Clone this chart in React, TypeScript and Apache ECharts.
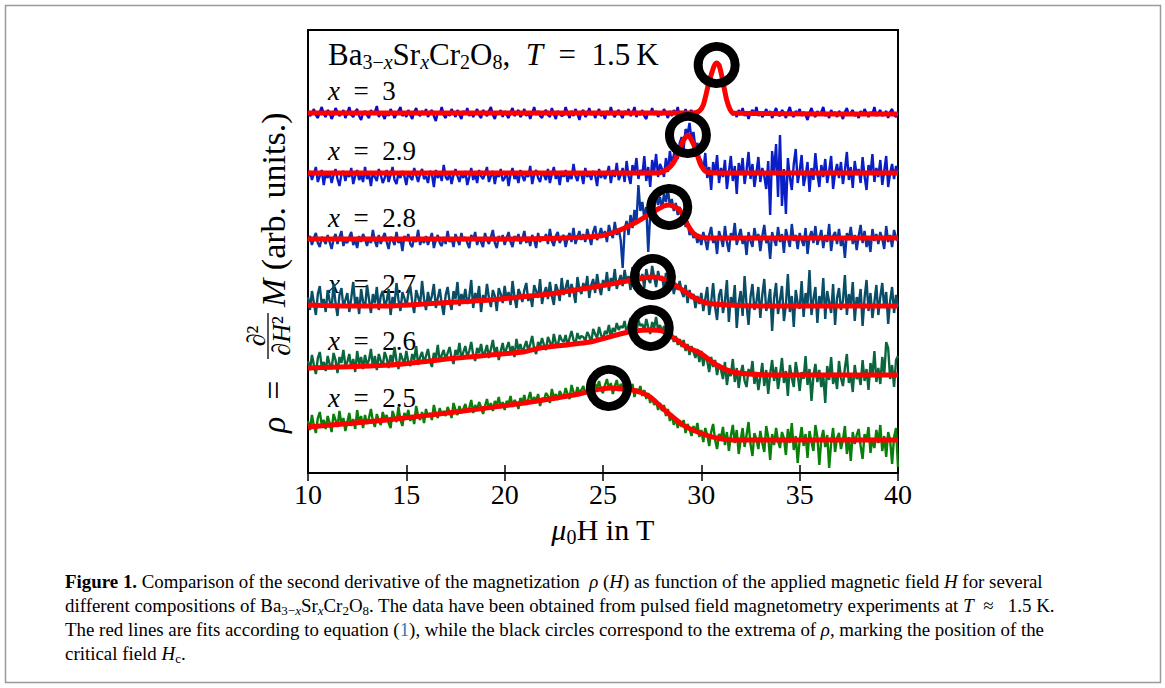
import React, { useEffect, useRef } from "react";
import * as echarts from "echarts";

// ---------- data ----------
const H_START = 10; // T
const H_STEP = 0.1; // T, measurement grid step
const xTickValues = [10, 15, 20, 25, 30, 35, 40];
const compositions = ["3", "2.9", "2.8", "2.7", "2.6", "2.5"];
const traceColors = ["#0808d0", "#0a1ec8", "#0a36a0", "#0a4d66", "#0a663c", "#0a800a"];

// measured rho (arb. units, offset per composition) on the H grid 10..40 T
const rhoX300 = [
  362, 357, 360, 364, 358, 355, 361, 366, 359, 356,
  363, 360, 354, 358, 365, 361, 357, 359, 363, 355,
  360, 366, 358, 356, 361, 364, 357, 353, 360, 362,
  358, 355, 363, 359, 361, 367, 356, 360, 358, 354,
  361, 357, 364, 360, 355, 359, 362, 366, 357, 360,
  356, 363, 358, 354, 361, 365, 359, 357, 362, 358,
  364, 356, 360, 363, 357, 352, 361, 359, 366, 358,
  355, 361, 357, 364, 360, 356, 363, 358, 354, 362,
  359, 365, 357, 361, 356, 360, 364, 358, 355, 363,
  360, 357, 362, 366, 358, 354, 361, 359, 363, 356,
  362, 358, 355, 361, 365, 357, 360, 363, 356, 359,
  364, 357, 361, 354, 360, 366, 358, 362, 357, 355,
  361, 363, 358, 356, 365, 359, 354, 362, 360, 357,
  358, 366, 360, 355, 362, 357, 364, 359, 353, 361,
  363, 356, 359, 365, 358, 361, 355, 360, 364, 357,
  360, 354, 362, 358, 366, 359, 356, 361, 363, 358,
  355, 362, 359, 364, 357, 360, 366, 356, 361, 358,
  363, 357, 354, 361, 359, 365, 358, 362, 356, 360,
  358, 364, 360, 355, 362, 357, 363, 359, 366, 356,
  361, 358, 364, 357, 360, 363, 355, 361, 358, 362,
  364, 368, 375, 383, 392, 399, 405, 409, 411, 408,
  401, 391, 380, 372, 366, 362, 358, 361, 356, 363,
  359, 365, 357, 361, 354, 360, 363, 358, 366, 357,
  361, 356, 359, 364, 358, 362, 355, 360, 365, 358,
  357, 363, 360, 355, 361, 366, 358, 356, 362, 359,
  364, 357, 361, 358, 353, 360, 365, 359, 356, 362,
  358, 361, 366, 357, 360, 355, 363, 359, 361, 356,
  362, 359, 354, 361, 365, 358, 360, 363, 357, 359,
  355, 362, 358, 364, 360, 356, 361, 359, 366, 357,
  360, 363, 357, 359, 362, 355, 361, 364, 358, 356,
  360,
];
const rhoX290 = [
  296, 302, 293, 299, 306, 291, 297, 303, 288, 300,
  295, 301, 290, 298, 304, 294, 287, 299, 302, 292,
  300, 296, 305, 289, 297, 303, 293, 298, 291, 306,
  294, 299, 287, 301, 296, 292, 304, 298, 290, 295,
  303, 291, 298, 306, 293, 289, 300, 295, 302, 297,
  288, 301, 296, 293, 305, 298, 291, 299, 304, 294,
  297, 290, 302, 299, 286, 303, 295, 300, 292, 308,
  296, 293, 301, 289, 298, 304, 297, 291, 300, 295,
  302, 288, 296, 305, 293, 299, 290, 303, 297, 294,
  299, 306, 291, 297, 302, 289, 300, 296, 304, 292,
  295, 301, 287, 299, 305, 294, 298, 290, 303, 297,
  292, 300, 296, 307, 289, 298, 303, 295, 291, 301,
  298, 293, 304, 290, 299, 306, 294, 300, 288, 302,
  296, 303, 291, 298, 294, 309, 297, 292, 301, 299,
  289, 305, 296, 300, 293, 302, 298, 287, 304, 295,
  301, 294, 299, 307, 290, 303, 296, 310, 293, 298,
  305, 291, 312, 297, 289, 308, 300, 315, 294, 303,
  298, 317, 292, 306, 286, 313, 301, 319, 296, 309,
  304, 296, 315, 301, 322, 309, 318, 327, 314, 330,
  336, 324, 344, 339, 350, 333, 341, 325, 330, 316,
  312, 302, 320, 295, 306, 283, 311, 299, 318, 290,
  305, 296, 313, 284, 301, 317, 292, 307, 279, 310,
  298, 315, 289, 303, 321, 294, 309, 286, 300, 316,
  291, 305, 297, 284, 312, 258, 322, 301, 329, 276,
  338, 267, 304, 259, 315, 296, 283, 309, 324, 290,
  302, 318, 287, 297, 311, 281, 305, 293, 320, 299,
  286, 308, 296, 314, 290, 302, 317, 284, 300, 309,
  295, 311, 289, 303, 321, 293, 306, 285, 312, 298,
  304, 290, 316, 297, 283, 308, 299, 319, 291, 305,
  296, 313, 288, 302, 317, 286, 300, 309, 294, 307,
  301,
];
const rhoX280 = [
  232, 237, 228, 235, 240, 230, 226, 236, 233, 229,
  238, 231, 224, 234, 239, 229, 236, 242, 227, 233,
  230, 236, 241, 228, 233, 225, 237, 231, 239, 234,
  227, 235, 230, 243, 232, 226, 238, 229, 235, 240,
  231, 224, 236, 233, 228, 241, 230, 235, 222, 237,
  233, 239, 229, 226, 236, 231, 243, 228, 234, 230,
  237, 228, 234, 240, 225, 233, 238, 230, 227, 236,
  229, 242, 231, 235, 226, 239, 233, 228, 240, 232,
  236, 230, 225, 238, 233, 241, 228, 235, 231, 226,
  240, 233, 229, 236, 243, 230, 225, 237, 232, 238,
  228, 235, 241, 231, 226, 237, 233, 239, 229, 234,
  242, 230, 236, 227, 238, 233, 225, 240, 231, 236,
  233, 239, 229, 244, 232, 227, 237, 241, 230, 235,
  238, 226, 235, 240, 231, 245, 229, 236, 242, 233,
  239, 231, 244, 236, 228, 241, 247, 233, 238, 245,
  236, 242, 231, 248, 240, 235, 251, 238, 244, 233,
  205, 244, 252, 238, 258, 245, 263, 250, 288, 262,
  271, 255, 266, 221, 259, 274, 262, 280, 268, 276,
  264, 279, 271, 285, 266, 274, 262, 270, 258, 266,
  255, 261, 246, 252, 238, 243, 235, 240, 230, 237,
  228, 241, 233, 223, 238, 246, 230, 236, 219, 242,
  235, 226, 247, 231, 221, 240, 234, 250, 228, 237,
  244, 229, 236, 218, 241, 232, 226, 245, 233, 239,
  222, 237, 248, 230, 235, 214, 241, 233, 227, 246,
  231, 239, 220, 244, 235, 226, 249, 232, 238, 224,
  240, 233, 227, 245, 219, 236, 242, 230, 247, 228,
  235, 243, 225, 238, 231, 249, 222, 237, 241, 229,
  244, 227, 236, 215, 240, 233, 246, 229, 238, 223,
  237, 248, 230, 242, 226, 235, 221, 244, 232, 239,
  229, 241, 234, 224, 247, 231, 238, 226, 243, 235,
  232,
];
const rhoX270 = [
  176, 163, 182, 170, 158, 179, 187, 168, 174, 161,
  183, 172, 165, 189, 170, 157, 178, 185, 166, 173,
  180, 161, 175, 191, 168, 176, 159, 184, 171, 165,
  188, 174, 160, 179, 170, 186, 163, 177, 182, 167,
  172, 184, 158, 176, 169, 190, 173, 162, 181, 175,
  166, 179, 187, 171, 160, 183, 176, 168, 192, 174,
  163, 181, 170, 177, 189, 165, 175, 184, 169, 158,
  178, 186, 171, 163, 182, 174, 191, 167, 179, 172,
  184, 169, 176, 193, 165, 180, 173, 187, 161, 178,
  171, 189, 175, 166, 183, 177, 162, 185, 179, 170,
  187, 173, 181, 168, 192, 176, 165, 184, 179, 171,
  183, 190, 172, 179, 166, 188, 182, 175, 194, 169,
  180, 186, 174, 191, 177, 168, 189, 183, 172, 195,
  178, 185, 193, 176, 189, 181, 170, 196, 184, 179,
  190, 182, 197, 175, 188, 194, 180, 199, 186, 178,
  193, 186, 201, 182, 195, 189, 204, 184, 192, 198,
  187, 203, 191, 197, 183, 206, 194, 188, 200, 192,
  199, 185, 204, 194, 190, 207, 196, 186, 202, 193,
  197, 184, 200, 191, 186, 194, 179, 189, 183, 192,
  181, 176, 188, 170, 183, 174, 179, 165, 177, 169,
  180, 162, 174, 186, 158, 171, 190, 166, 153, 178,
  184, 160, 172, 193, 151, 176, 167, 188, 145, 170,
  182, 157, 197, 168, 148, 176, 189, 163, 171, 186,
  155, 178, 194, 162, 170, 184, 142, 175, 190, 159,
  173, 187, 152, 168, 199, 161, 177, 146, 183, 170,
  164, 192, 156, 180, 169, 203, 158, 174, 186, 150,
  177, 166, 195, 154, 182, 171, 160, 189, 148, 175,
  185, 163, 172, 198, 158, 179, 168, 191, 152, 176,
  169, 184, 147, 175, 193, 162, 180, 155, 171, 188,
  158, 176, 190, 165, 181, 149, 172, 186, 160, 178,
  166,
];
const rhoX260 = [
  112, 103, 118, 108, 99, 115, 121, 106, 111, 102,
  117, 109, 104, 120, 113, 100, 116, 110, 123, 107,
  111, 119, 105, 114, 101, 122, 109, 116, 104, 118,
  108, 113, 124, 106, 117, 103, 119, 112, 107, 121,
  115, 105, 118, 110, 126, 112, 104, 120, 114, 109,
  122, 111, 107, 119, 113, 127, 108, 116, 121, 110,
  117, 124, 112, 106, 120, 115, 128, 111, 118, 123,
  113, 120, 126, 115, 109, 123, 118, 130, 114, 121,
  127, 116, 122, 131, 118, 112, 125, 120, 129, 117,
  121, 128, 115, 124, 133, 119, 126, 113, 122, 130,
  118, 125, 131, 121, 127, 116, 134, 123, 129, 120,
  126, 132, 122, 129, 137, 124, 119, 131, 127, 135,
  128, 123, 136, 131, 125, 139, 130, 127, 138, 133,
  131, 138, 127, 135, 142, 133, 129, 140, 134, 137,
  136, 132, 141, 137, 130, 144, 139, 135, 146, 138,
  134, 142, 139, 148, 136, 145, 141, 150, 143, 147,
  145, 152, 140, 148, 155, 144, 150, 141, 153, 147,
  149, 142, 154, 146, 139, 151, 145, 156, 143, 148,
  141, 147, 138, 144, 135, 140, 131, 137, 128, 134,
  126, 133, 122, 129, 118, 127, 121, 115, 124, 111,
  122, 107, 118, 112, 101, 116, 106, 113, 98, 109,
  103, 94, 111, 88, 102, 97, 114, 91, 105, 85,
  100, 108, 92, 86, 104, 97, 112, 89, 101, 83,
  96, 110, 87, 103, 79, 99, 113, 92, 106, 84,
  98, 115, 90, 102, 77, 108, 95, 86, 111, 99,
  82, 101, 94, 117, 88, 104, 72, 97, 109, 91,
  103, 86, 98, 70, 107, 93, 116, 89, 100, 84,
  112, 95, 87, 105, 119, 90, 98, 81, 108, 94,
  99, 88, 113, 92, 104, 83, 110, 97, 122, 91,
  105, 89, 116, 98, 131, 125, 94, 108, 86, 113,
  117,
];
const rhoX250 = [
  52, 43, 58, 47, 40, 55, 61, 48, 53, 44,
  57, 50, 41, 59, 53, 46, 62, 49, 55, 42,
  51, 60, 47, 54, 44, 63, 50, 57, 45, 58,
  49, 55, 64, 52, 46, 59, 53, 48, 61, 54,
  58, 50, 45, 62, 56, 51, 66, 53, 47, 60,
  55, 63, 52, 58, 49, 67, 57, 53, 61, 50,
  64, 56, 60, 53, 68, 59, 55, 65, 58, 62,
  57, 66, 61, 55, 70, 63, 58, 67, 60, 64,
  69, 61, 65, 73, 60, 68, 63, 71, 66, 59,
  67, 74, 64, 70, 62, 72, 68, 76, 65, 71,
  63, 72, 69, 77, 66, 73, 70, 64, 75, 71,
  78, 68, 74, 81, 70, 76, 72, 79, 67, 75,
  73, 80, 77, 70, 84, 75, 79, 73, 82, 78,
  76, 85, 79, 74, 88, 81, 77, 86, 80, 83,
  87, 79, 84, 90, 82, 77, 89, 85, 92, 83,
  80, 88, 94, 84, 90, 79, 87, 93, 82, 89,
  86, 80, 91, 78, 85, 89, 76, 84, 81, 87,
  77, 83, 74, 80, 70, 76, 68, 73, 63, 70,
  62, 68, 57, 64, 52, 59, 48, 55, 45, 52,
  46, 53, 40, 49, 44, 37, 47, 41, 50, 36,
  43, 31, 45, 38, 27, 41, 49, 33, 24, 39,
  35, 46, 28, 41, 22, 37, 48, 30, 43, 19,
  33, 45, 26, 38, 51, 29, 17, 40, 34, 24,
  42, 30, 21, 47, 36, 13, 39, 28, 45, 32,
  25, 41, 35, 18, 44, 30, 50, 23, 37, 10,
  33, 46, 27, 39, 15, 42, 31, 22, 48, 36,
  8, 34, 43, 26, 38, 5, 30, 45, 21, 35,
  40, 24, 33, 47, 19, 36, 12, 41, 29, 38,
  44, 27, 14, 39, 32, 46, 20, 35, 25, 43,
  30, 48, 22, 37, 16, 41, 33, 9, 36, 45,
  6,
];

// fits according to equation (1)
const fitH300 = [10, 29.6, 29.9, 30.1, 30.27, 30.4, 30.53, 30.65, 30.78, 30.9, 31.03, 31.15, 31.29, 31.45, 31.6, 40];
const fitR300 = [360, 360, 362, 368, 381, 392, 400, 407, 410, 408, 398, 386, 373, 364, 360, 359];
const fitH290 = [10, 27.8, 28.2, 28.45, 28.66, 28.92, 29.1, 29.32, 29.5, 29.68, 29.93, 30.1, 30.27, 31, 40];
const fitR290 = [300, 300, 303, 307, 313, 325, 333, 338, 333, 325, 310, 304, 301, 300, 300];
const fitH280 = [10, 20, 23, 24.85, 25.6, 26.2, 26.8, 27.3, 27.8, 28.1, 28.37, 28.65, 28.9, 29.25, 29.58, 29.93, 30.5, 31, 40];
const fitR280 = [234, 234, 235, 237, 241, 246, 252, 258, 264, 267, 268, 266, 263, 250, 240, 236, 235, 235, 235];
const fitH270 = [10, 12, 14.17, 16.7, 19.25, 21.8, 22.64, 24.85, 26.5, 27.0, 27.54, 28.24, 28.9, 29.58, 30.27, 31.3, 33, 40];
const fitR270 = [168, 167, 167, 170, 173, 178, 180, 187, 193, 195, 196, 193, 185, 176, 170, 168, 167, 167];
const fitH260 = [10, 14.17, 17.56, 20.95, 21.8, 24.34, 25.86, 26.6, 27.39, 28.0, 28.75, 29.25, 29.93, 30.78, 31.6, 32.47, 34, 40];
const fitR260 = [105, 108, 115, 121, 125, 131, 139, 142, 143, 142, 133, 126, 120, 108, 101, 99, 98, 98];
const fitH250 = [10, 14, 17.5, 21, 23.8, 24.6, 25.41, 26.0, 26.5, 27.0, 27.4, 28.24, 29.07, 29.93, 30.78, 31.6, 33, 40];
const fitR250 = [46, 53, 61, 70, 79, 83, 85, 84, 83, 80, 76, 61, 48, 40, 35, 33, 33, 33];

// extrema of rho (critical fields)
const criticalH = [30.78, 29.32, 28.37, 27.54, 27.43, 25.3];
const criticalRho = [408, 338, 266, 196, 145, 85];

const rhoTraces = [rhoX300, rhoX290, rhoX280, rhoX270, rhoX260, rhoX250];
const fitHs = [fitH300, fitH290, fitH280, fitH270, fitH260, fitH250];
const fitRs = [fitR300, fitR290, fitR280, fitR270, fitR260, fitR250];

// ---------- styling ----------
const PLOT_FONT = "'Liberation Serif', 'DejaVu Serif', serif";
const CAP_FONT = "'Liberation Serif', 'DejaVu Serif', serif";

const GRID = { left: 308, top: 30, width: 590, height: 443 };

function richSet(size: number, lh: number, subSize: number, subLH: number, subPad: number, family: string) {
  const base = { fontSize: size, lineHeight: lh, fontFamily: family, fill: "#000", color: "#000" };
  const sub = { fontSize: subSize, lineHeight: subLH, fontFamily: family, fill: "#000", color: "#000", padding: [subPad, 0, 0, 0] };
  return {
    r: { ...base },
    i: { ...base, fontStyle: "italic" },
    b: { ...base, fontWeight: "bold" },
    c: { ...base, fill: "#2b7bb9", color: "#2b7bb9" },
    s: { ...sub },
    si: { ...sub, fontStyle: "italic" },
  };
}

const titleRich = richSet(31, 38, 20, 20, 15, PLOT_FONT);
const labelRich = richSet(27, 34, 18, 18, 14, PLOT_FONT);
const axisNameRich = richSet(30, 38, 20, 20, 15, PLOT_FONT);
const yNameRich = richSet(34, 42, 22, 22, 17, PLOT_FONT);
const capRich = richSet(18.9, 26, 13, 14, 10, CAP_FONT);

const captionLines = [
  "{b|Figure 1.}{r| Comparison of the second derivative of the magnetization  }{i|ρ}{r| (}{i|H}{r|) as function of the applied magnetic field }{i|H}{r| for several}",
  "{r|different compositions of Ba}{s|3−}{si|x}{r|Sr}{si|x}{r|Cr}{s|2}{r|O}{s|8}{r|. The data have been obtained from pulsed field magnetometry experiments at }{i|T}{r|\u2002≈\u2002 1.5 K.}",
  "{r|The red lines are fits according to equation (}{c|1}{r|), while the black circles correspond to the extrema of }{i|ρ}{r|, marking the position of the}",
  "{r|critical field }{i|H}{s|c}{r|.}",
];
const captionY = [581, 605, 629, 653];
const labelY = [91, 151, 218, 284, 341, 398];

export default function App() {
  const ref = useRef<HTMLDivElement>(null);
  useEffect(() => {
    if (!ref.current) return;
    const chart = echarts.init(ref.current, null, { renderer: "svg" });

    const series: any[] = [];
    rhoTraces.forEach((tr, k) => {
      series.push({
        type: "line",
        name: "x = " + compositions[k],
        data: tr.map((v, i) => [H_START + i * H_STEP, v]),
        showSymbol: false,
        symbol: "none",
        lineStyle: { color: traceColors[k], width: 2.4 },
        z: 2,
        silent: true,
      });
    });
    fitHs.forEach((hs, k) => {
      series.push({
        type: "line",
        name: "fit " + compositions[k],
        data: hs.map((h, i) => [h, fitRs[k][i]]),
        showSymbol: false,
        symbol: "none",
        smooth: 0.2,
        lineStyle: { color: "#ff0000", width: 5 },
        z: 3,
        silent: true,
      });
    });
    series.push({
      type: "scatter",
      name: "Hc",
      data: criticalH.map((h, i) => [h, criticalRho[i]]),
      symbol: "circle",
      symbolSize: 37,
      itemStyle: { color: "rgba(0,0,0,0)", borderColor: "#000", borderWidth: 9, opacity: 1 },
      z: 4,
      silent: true,
    });

    const graphics: any[] = [
      {
        type: "rect",
        shape: { x: 5.5, y: 5.5, width: 1155, height: 677 },
        style: { fill: "none", stroke: "#9a9a9a", lineWidth: 1.5 },
        silent: true,
      },
      {
        type: "text",
        x: 328,
        y: 54,
        style: {
          text: "{r|Ba}{s|3−}{si|x}{r|Sr}{si|x}{r|Cr}{s|2}{r|O}{s|8}{r|,  }{i|T}{r|\u2002=\u20021.5\u2009K}",
          rich: titleRich,
          verticalAlign: "middle",
          align: "left",
        },
        z: 10,
      },
      ...compositions.map((c, k) => ({
        type: "text",
        x: 328,
        y: labelY[k],
        style: {
          text: "{i|x}{r|\u2002=\u2002" + c + "}",
          rich: labelRich,
          verticalAlign: "middle",
          align: "left",
        },
        z: 1,
      })),
      {
        type: "text",
        x: 603,
        y: 529,
        style: {
          text: "{i|μ}{s|0}{r|H in T}",
          rich: axisNameRich,
          verticalAlign: "middle",
          align: "center",
        },
      },
      {
        type: "group",
        x: 285,
        y: 433,
        rotation: Math.PI / 2,
        children: [
          {
            type: "text",
            x: 0,
            y: -12,
            style: { text: "{i|ρ}{r|\u2002=\u2002}", rich: yNameRich, verticalAlign: "middle", align: "left" },
          },
          {
            type: "text",
            x: 97,
            y: -29,
            style: { text: "∂²", fontSize: 26, fontFamily: PLOT_FONT, fill: "#000", verticalAlign: "middle", align: "center" },
          },
          {
            type: "line",
            shape: { x1: 74, y1: -17, x2: 120, y2: -17 },
            style: { stroke: "#000", lineWidth: 1.3 },
          },
          {
            type: "text",
            x: 97,
            y: -4,
            style: {
              text: "{n|∂}{ii|H}{n|²}", verticalAlign: "middle", align: "center",
              rich: {
                n: { fontSize: 26, fontFamily: PLOT_FONT, fill: "#000" },
                ii: { fontSize: 26, fontFamily: PLOT_FONT, fontStyle: "italic", fill: "#000" },
              },
            },
          },
          {
            type: "text",
            x: 126,
            y: -12,
            style: { text: "{i|M}{r| (arb. units.)}", rich: yNameRich, verticalAlign: "middle", align: "left" },
          },
        ],
      },
      ...captionLines.map((t, k) => ({
        type: "text",
        x: 65,
        y: captionY[k],
        style: { text: t, rich: capRich, verticalAlign: "middle", align: "left" },
      })),
    ];

    const option: any = {
      animation: false,
      backgroundColor: "#ffffff",
      grid: { ...GRID, show: true, borderColor: "#000", borderWidth: 2, backgroundColor: "rgba(0,0,0,0)" },
      xAxis: [
        {
          type: "value",
          min: xTickValues[0],
          max: xTickValues[xTickValues.length - 1],
          interval: 5,
          position: "bottom",
          axisLine: { show: true, onZero: false, lineStyle: { color: "#000", width: 2 } },
          axisTick: { show: true, inside: true, length: 8, lineStyle: { color: "#000", width: 1.5 } },
          axisLabel: { color: "#000", fontSize: 28, fontFamily: PLOT_FONT, margin: 7, showMinLabel: true, showMaxLabel: true },
          splitLine: { show: false },
        },
        {
          type: "value",
          min: xTickValues[0],
          max: xTickValues[xTickValues.length - 1],
          interval: 5,
          position: "top",
          axisLine: { show: false },
          axisTick: { show: true, inside: true, length: 8, lineStyle: { color: "#000", width: 1.5 } },
          axisLabel: { show: false },
          splitLine: { show: false },
        },
      ],
      yAxis: { type: "value", min: 0, max: 443, show: false },
      series,
      graphic: graphics,
    };
    chart.setOption(option);
    return () => chart.dispose();
  }, []);
  return (
    <div
      ref={ref}
      style={{ position: "absolute", left: 0, top: 0, width: 1165, height: 688, background: "#fff" }}
    />
  );
}
